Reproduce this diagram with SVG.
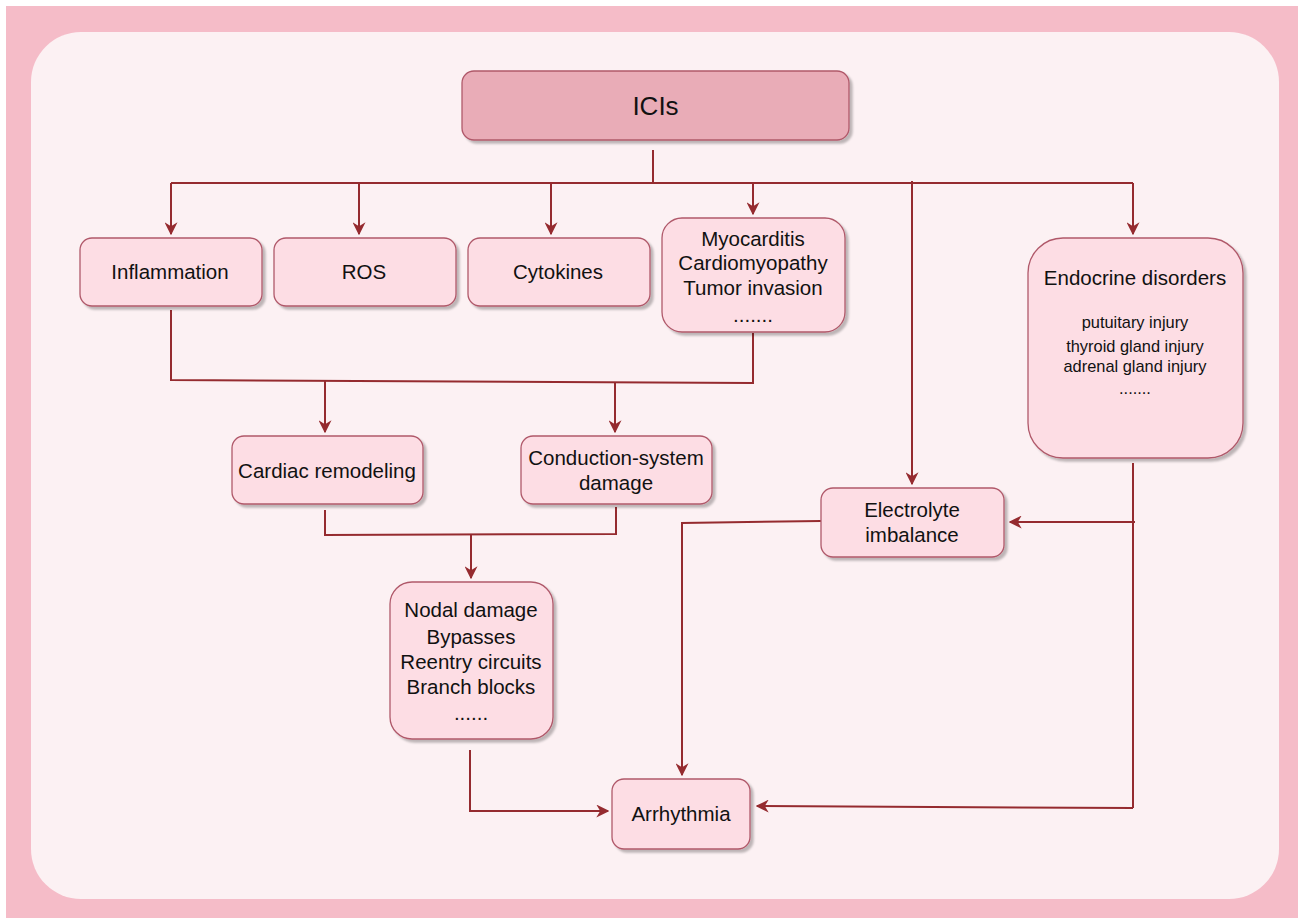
<svg xmlns="http://www.w3.org/2000/svg" width="1304" height="921" viewBox="0 0 1304 921">
<defs>
<filter id="sh" x="-10%" y="-10%" width="125%" height="125%">
<feDropShadow dx="3" dy="3" stdDeviation="1.2" flood-color="#000" flood-opacity="0.25"/>
</filter>
<marker id="ar" viewBox="0 0 10 10" refX="9" refY="5" markerWidth="13" markerHeight="13" markerUnits="userSpaceOnUse" orient="auto">
<path d="M0,0 L10,5 L0,10 L3,5 Z" fill="#952B2F"/>
</marker>
<style>
.n{fill:#FDDDE4;stroke:#B0596A;stroke-width:1.3;filter:url(#sh)}
.t{font-family:"Liberation Sans",Arial,sans-serif;font-size:20.5px;fill:#111;text-anchor:middle}
.s{font-family:"Liberation Sans",Arial,sans-serif;font-size:16.4px;fill:#111;text-anchor:middle}
.c{fill:none;stroke:#952B2F;stroke-width:2}
.a{fill:none;stroke:#952B2F;stroke-width:2;marker-end:url(#ar)}
</style>
</defs>
<rect x="0" y="0" width="1304" height="921" fill="#FFFFFF"/>
<rect x="6" y="6" width="1292" height="912" fill="#F5BCC8"/>
<rect x="31" y="32" width="1248" height="867" rx="50" fill="#FCF1F3"/>

<g id="connectors">
<path class="c" d="M653,150 V183"/>
<path class="c" d="M171,183 H1133"/>
<path class="a" d="M171,183 V234"/>
<path class="a" d="M359,183 V234"/>
<path class="a" d="M551,183 V234"/>
<path class="a" d="M753,183 V214"/>
<path class="a" d="M1133,183 V234"/>
<path class="a" d="M912,181 V484"/>
<path class="c" d="M171,310 V380 L752,383"/>
<path class="c" d="M753,333 V384"/>
<path class="a" d="M325,381 V432"/>
<path class="a" d="M615,382 V432"/>
<path class="c" d="M325,510 V535 L616,534 V507"/>
<path class="a" d="M471,535 V578"/>
<path class="a" d="M470,750 V811 H608"/>
<path class="a" d="M821,521 L682,523 V775"/>
<path class="c" d="M1133,463 V808"/>
<path class="a" d="M1135,522 H1010"/>
<path class="a" d="M1133,808 L757,806"/>
</g>

<g id="icis">
<rect class="n" x="462" y="71" width="387" height="69" rx="12" style="fill:#E9ACB7"/>
<text class="t" x="655.5" y="115" style="font-size:26px">ICIs</text>
</g>
<g id="inflammation">
<rect class="n" x="80" y="238" width="182" height="68" rx="12"/>
<text class="t" x="170" y="279">Inflammation</text>
</g>
<g id="ros">
<rect class="n" x="274" y="238" width="182" height="68" rx="12"/>
<text class="t" x="364" y="279">ROS</text>
</g>
<g id="cytokines">
<rect class="n" x="468" y="238" width="182" height="68" rx="12"/>
<text class="t" x="558" y="279">Cytokines</text>
</g>
<g id="myocarditis">
<rect class="n" x="662" y="218" width="183" height="114" rx="20"/>
<text class="t" x="753" y="246">Myocarditis</text>
<text class="t" x="753" y="270">Cardiomyopathy</text>
<text class="t" x="753" y="295">Tumor invasion</text>
<text class="t" x="753" y="322">.......</text>
</g>
<g id="endocrine">
<rect class="n" x="1028" y="238" width="215" height="220" rx="35"/>
<text class="t" x="1135" y="285">Endocrine disorders</text>
<text class="s" x="1135" y="328">putuitary injury</text>
<text class="s" x="1135" y="352">thyroid gland injury</text>
<text class="s" x="1135" y="372">adrenal gland injury</text>
<text class="s" x="1135" y="394">.......</text>
</g>
<g id="cardiac-remodeling">
<rect class="n" x="232" y="436" width="191" height="68" rx="12"/>
<text class="t" x="327" y="478">Cardiac remodeling</text>
</g>
<g id="conduction">
<rect class="n" x="521" y="436" width="191" height="68" rx="12"/>
<text class="t" x="616" y="465">Conduction-system</text>
<text class="t" x="616" y="490">damage</text>
</g>
<g id="electrolyte">
<rect class="n" x="821" y="488" width="183" height="69" rx="12"/>
<text class="t" x="912" y="517">Electrolyte</text>
<text class="t" x="912" y="542">imbalance</text>
</g>
<g id="nodal">
<rect class="n" x="390" y="582" width="163" height="157" rx="22"/>
<text class="t" x="471" y="617">Nodal damage</text>
<text class="t" x="471" y="644">Bypasses</text>
<text class="t" x="471" y="669">Reentry circuits</text>
<text class="t" x="471" y="694">Branch blocks</text>
<text class="t" x="471" y="720">......</text>
</g>
<g id="arrhythmia">
<rect class="n" x="612" y="779" width="138" height="70" rx="12"/>
<text class="t" x="681" y="821">Arrhythmia</text>
</g>
</svg>
